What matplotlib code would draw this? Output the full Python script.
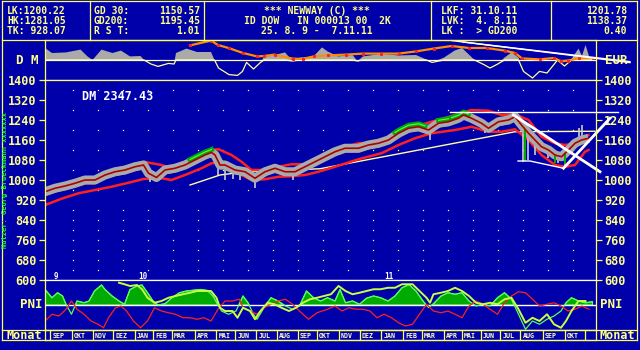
import numpy as np
import matplotlib
matplotlib.use("Agg")
import matplotlib.pyplot as plt
from matplotlib.lines import Line2D
from matplotlib.transforms import offset_copy

# === Farben (EGA-Look) ===
BG = "#0000AA"
YEL = "#FFFF55"
TXT = "#FFFF88"
GRAY = "#AAAAAA"
RED = "#FF2020"
DRED = "#AA0000"
GREEN = "#00AA00"
LGREEN = "#55FF55"
LIME = "#C8FF40"
ORANGE = "#FF8C00"

W, H = 640, 350

# === Kopfzeile ===
head_left = ["LK:1200.22", "HK:1281.05", "TK: 928.07"]
head_gd_names = ["GD 30:", "GD200:", "R S T:"]
head_gd_vals = ["1150.57", "1195.45", "1.01"]
head_mid = ["*** NEWWAY (C) ***", "ID DOW   IN 000013 00  2K", "25. 8. 9 -  7.11.11"]
head_lk = ["LKF: 31.10.11", "LVK:  4. 8.11", "LK :  > GD200"]
head_right = ["1201.78", "1138.37", "0.40"]

# === Kurs (x = Wochenindex ab 25.8.09) ===
price_w = [0, 2, 4, 6, 8, 10, 12, 14, 16, 18, 19.7, 20.7, 22.3, 24, 26, 28, 30, 32, 33.3, 34,
           35, 36, 38, 40, 42, 44, 46, 48, 50, 52, 54, 56, 58, 60, 62.7, 64.7, 66.7, 68.7, 70.7, 72.7,
           74.7, 76.7, 78.7, 80.7, 82.7, 83.7, 85.3, 87.3, 88.7, 90.7, 92.7, 94, 95.3, 96.7, 98, 99.3,
           100.7, 102, 103.3, 104.7, 106, 107.3, 108.7]
price = [953, 967, 976, 987, 1000, 1000, 1020, 1033, 1040, 1053, 1060, 1027, 1010, 1040, 1047, 1060,
         1080, 1100, 1110, 1100, 1060, 1060, 1040, 1033, 1007, 1033, 1047, 1033, 1033, 1053, 1073, 1093,
         1113, 1127, 1127, 1140, 1147, 1160, 1187, 1207, 1213, 1200, 1227, 1233, 1247, 1260, 1247, 1227,
         1207, 1233, 1240, 1253, 1220, 1187, 1160, 1133, 1120, 1100, 1093, 1120, 1147, 1160, 1167]

band_w = [0, 2, 3.3, 6.7, 10, 13.3, 16.7, 19.7, 23.3, 25.3, 28, 31.3, 33.3, 34.7, 37.3, 39.3, 41.3, 44,
          46.7, 49.3, 52, 54.7, 58, 62.7, 67.3, 70.7, 74, 77.3, 82, 85.3, 88.7, 91.3, 94, 96.7, 99.3,
          102, 104, 106, 108, 108.7]
band_up = [945, 960, 975, 993, 1007, 1027, 1053, 1073, 1060, 1047, 1073, 1100, 1120, 1123, 1100, 1073,
           1040, 1040, 1053, 1063, 1063, 1085, 1120, 1147, 1153, 1193, 1213, 1233, 1260, 1280, 1277, 1260,
           1263, 1240, 1173, 1147, 1140, 1147, 1173, 1180]
band_lo = [900, 915, 925, 947, 960, 973, 989, 1004, 1007, 1000, 1020, 1047, 1067, 1070, 1053, 1020,
           1000, 1003, 1013, 1015, 1020, 1033, 1053, 1083, 1107, 1140, 1167, 1187, 1200, 1213, 1193, 1193,
           1203, 1160, 1100, 1060, 1053, 1060, 1113, 1120]

gd200_w = [29, 35, 40, 55, 94, 110]
gd200 = [980, 1020, 1033, 1045, 1193, 1195]

# Dochte (Woche, Extremwert)
spike_w = [21, 22, 34.5, 36, 37.5, 39, 42, 49.5, 77, 88, 95.5, 96.5, 98, 100.5, 102.5, 104, 106.8, 107.3]
spike_v = [993, 1000, 1020, 1000, 1005, 1000, 967, 1000, 1160, 1187, 1073, 1080, 1100, 1090, 1070, 1060,
           1210, 1222]
green_spans = [(29, 33.3), (70, 76), (78.7, 80.7), (81.3, 84.7)]
green_spike_w = [96, 102, 104]
green_spike_v = [1075, 1070, 1065]

# Trendlinien
trend_top_w, trend_top = [81, 114.5], [1271, 1271]
trend_down_w, trend_down = [93.7, 111], [1260, 1033]
trend_up_w, trend_up = [103.7, 113], [1047, 1247]
trend_low_w, trend_low = [94.6, 97, 103.7], [1076, 1076, 1047]

# === DM-Panel ===
dm_w = [0, 1.4, 4.2, 7.1, 8.5, 9.5, 11.3, 13.5, 15.2, 17, 19.1, 19.8, 21.2, 22.6, 24.7, 25.8, 26.2, 28.3,
        30.4, 33.2, 33.9, 34.7, 36.8, 38.5, 39.5, 40.3, 41.7, 43.1, 43.8, 45.9, 48, 49.5, 50.9, 53.7,
        55.4, 56.5, 58.6, 61.5, 62.5, 63.6, 67.1, 70.7, 74.2, 76.3, 77.4, 79.8, 81.9, 83.4, 84.8, 85.9,
        87.7, 89, 90.4, 91.9, 93.3, 94.7, 95.7, 97.5, 98.9, 100.4, 101.8, 102.5, 103.9, 105.3, 106.7,
        107.4, 108.1, 108.9, 109.5]
dm = [60, 35, 38, 52, 18, 0, 52, 35, 47, 18, 20, 0, -20, -32, -17, -20, 35, 57, 40, 40, 0, -40, -73, -77,
      -57, -12, -45, -12, 15, 25, 38, -5, 12, 18, 63, 43, 18, 25, -5, 18, 30, 23, 25, 2, -12, 12, 47, 60,
      27, 0, -22, -40, -22, 12, 38, 12, -57, -90, -57, -65, -22, 5, -30, 5, 57, 20, 75, 12, 10]
dm_or_w = [29, 33.2, 34.6, 36.7, 39.6, 42.4, 43.8, 45.9, 49.5, 51.6, 53.7, 56.5, 60.1, 63.6, 67.1, 70.7,
           74.2, 77.7, 81.3, 84.8, 88.3, 91.9, 94, 95.4, 98.9, 101.8, 103.2, 104.6, 106.7, 109.5]
dm_or = [73, 97, 75, 60, 35, 18, 20, 27, 7, 5, 18, 23, 27, 32, 32, 32, 43, 57, 70, 60, 60, 47, 35, 8, 3,
         10, -7, -3, 8, 10]
dm_tr1_w, dm_tr1 = [81.4, 117], [97, -13]
dm_tr2_w, dm_tr2 = [83.6, 109, 117], [90, 15, -8]

# === PNI-Panel ===
pni_g_w = [0, 1.4, 2.5, 3.5, 4.2, 5.3, 6.4, 7.8, 8.8, 9.9, 11.3, 12, 13.4, 14.8, 15.9, 17, 18.4, 19.4,
           20.5, 21.6, 22.6, 24, 25.4, 26.9, 28.3, 29.7, 31.1, 32.5, 33.6, 34.6, 35.3, 36.7, 38.2, 39.6,
           40.6, 41.7, 42.4, 43.8, 45.2, 46.6, 48.1, 49.5, 50.9, 52.3, 53.7, 55.1, 56.5, 58, 59, 60.1,
           61.5, 62.9, 64.3, 65.7, 67.1, 68.6, 70, 71.4, 72.8, 74.2, 75.6, 76.7, 77.7, 79.2, 80.6, 82,
           83.4, 84.8, 86.2, 87.6, 89, 90.5, 91.9, 93.3, 94.7, 96.1, 97.5, 98.9, 100.4, 101.8, 103.2,
           104.2, 105.3, 106.7, 108.1, 109.5]
pni_g = [62, 29, 49, 36, 3, -37, 16, 9, 16, 56, 80, 62, 36, 16, 3, 62, 76, 80, 49, 16, 0, 5, 29, 49, 56,
         59, 62, 58, 36, 0, -24, -37, -24, 36, 9, -37, -57, -11, 29, 16, -4, -17, -4, 56, 29, 16, 29, 16,
         62, 9, 16, 3, 27, 36, 29, 16, 36, 69, 82, 56, 16, -10, 5, 36, 49, 43, 49, 16, -4, 3, -4, 29, 49,
         23, -37, -97, -64, -77, -57, -44, -24, 9, 29, 16, 9, 13]
pni_r_w = [0, 1.4, 2.8, 4.2, 5.3, 6.4, 7.8, 9.2, 10.6, 11.7, 12.7, 14.1, 15.2, 16.3, 17.7, 19.1, 20.5,
           21.9, 23.3, 24.7, 26.1, 27.6, 29, 30.4, 31.8, 33.2, 34.6, 36, 37.5, 38.9, 39.6, 41, 42.4, 43.8,
           45.2, 46.6, 48.1, 49.5, 50.9, 52.7, 54.4, 56.5, 58, 59.4, 60.8, 62.2, 63.6, 65, 66.4, 67.8,
           69.3, 70.7, 72.1, 73.5, 74.9, 76.3, 77.7, 79.2, 80.6, 82, 83.4, 84.8, 86.2, 87.6, 89, 90.5,
           91.9, 93.3, 94.7, 96.1, 97.5, 98.9, 100.4, 101.8, 103.2, 104.6, 106, 107.4, 108.8]
pni_r = [-64, -37, -44, -17, 16, -17, -37, -64, -77, -91, -51, -11, -4, -24, -64, -91, -64, -11, -24,
         -31, -37, -51, -51, -57, -51, -64, -17, 16, 16, 23, -11, -24, -37, -11, 3, 16, 23, 3, -24, -57,
         -31, -17, -4, -24, -11, -17, -17, -24, -51, -37, -51, -71, -84, -77, -37, 3, -24, -31, -24, -37,
         -51, -4, 16, 3, -17, -37, 9, 36, 53, 49, 23, -4, 3, 9, -4, -24, -17, -4, -17]
pni_y_w = [14.8, 15.9, 17, 18.4, 19.4, 20.5, 21.9, 23.3, 24.7, 26.1, 27.6, 29, 30.4, 31.8, 33.2, 34.3,
           35, 36, 37.5, 38.5, 39.6, 41, 42, 43.1, 44.5, 45.9, 47.3, 48.8, 50.2, 51.6, 53, 54.4, 55.8,
           57.2, 58.7, 60.1, 61.5, 62.9, 64.3, 65.7, 67.1, 68.6, 70, 71.4, 73.5, 74.9, 76.3, 77, 77.7,
           79.2, 80.6, 82, 83.4, 84.8, 86.2, 87.6, 89, 90.5, 91.9, 93.3, 94.7, 96.1, 97.5, 98.9, 100.4,
           101.8, 103.2, 104.2, 105.3, 106.7, 108.1]
pni_y = [89, 83, 76, 80, 63, 29, 9, 16, 29, 36, 43, 49, 56, 56, 56, 29, -11, -24, -24, -51, -11, -24,
         -57, -24, 9, 3, -11, -24, -11, 9, 23, 29, 36, 43, 76, 56, 43, 49, 56, 63, 63, 69, 69, 83, 83, 56,
         29, 9, 43, 49, 56, 69, 56, 36, 9, 3, 9, 3, 23, 29, -17, -71, -51, -64, -37, -77, -91, -64, -24,
         16, 16]

# === Zeitachse ===
month_edges = [1, 5.3, 9.5, 13.5, 17.9, 21.5, 25.3, 29.9, 34.2, 38, 42.2, 46.3, 50.5, 54.3, 58.7, 62.9,
               67.2, 71.5, 75.3, 79.7, 83.3, 87.1, 91, 95, 99.5, 103.9, 108]
month_names = ["SEP", "OKT", "NOV", "DEZ", "JAN", "FEB", "MAR", "APR", "MAI", "JUN", "JUL", "AUG",
               "SEP", "OKT", "NOV", "DEZ", "JAN", "FEB", "MAR", "APR", "MAI", "JUN", "JUL", "AUG",
               "SEP", "OKT"]
year_labels = ["9", "10", "11"]
year_edge_idx = [0, 4, 16]

price_ticks = [1400, 1320, 1240, 1160, 1080, 1000, 920, 840, 760, 680, 600]
grid_w = [5.5 + 5 * k for k in range(21)]
grid_y = [1360, 1280, 1200, 1120, 1040, 960, 880, 840, 800, 760, 720, 680, 640]

XMAX = 110.2

plt.rcParams['font.family'] = ['DejaVu Sans Mono']
plt.rcParams['font.weight'] = 'bold'

fig = plt.figure(figsize=(6.4, 3.5), dpi=100, facecolor=BG)


def rect(x0, y0, x1, y1):
    return [x0 / W, 1 - y1 / H, (x1 - x0) / W, (y1 - y0) / H]


def fline(xs, ys, color=YEL, lw=0.9):
    fig.add_artist(Line2D([x / W for x in xs], [1 - y / H for y in ys],
                          transform=fig.transFigure, color=color, lw=lw))


def ftext(x, y, s, ha="left", size=8.5, color=TXT, **kw):
    fig.text(x / W, 1 - y / H, s, ha=ha, va="center", fontsize=size, color=color,
             fontweight="bold", **kw)


def style(ax, ylim):
    ax.set_facecolor(BG)
    ax.set_xlim(0, XMAX)
    ax.set_ylim(*ylim)
    ax.set_xticks([])
    ax.set_yticks([])
    for s in ax.spines.values():
        s.set_color(YEL)
        s.set_linewidth(0.9)


# --- Rahmen / Kopf ---
fline([2, 637], [1, 1])
fline([2, 637], [40, 40])
fline([2, 2], [1, 340])
fline([637, 637], [1, 340])
for xd in [90, 204, 431, 551]:
    fline([xd, xd], [1, 40])
fline([2, 637], [330, 330])
fline([2, 637], [340, 340])

HS = 7.0
for i in range(3):
    yy = 11.5 + 10 * i
    ftext(7, yy, head_left[i], size=HS)
    ftext(94, yy, head_gd_names[i], size=HS)
    ftext(200, yy, head_gd_vals[i], ha="right", size=HS)
    ftext(317, yy, head_mid[i], ha="center", size=HS)
    ftext(441, yy, head_lk[i], size=HS)
    ftext(627, yy, head_right[i], ha="right", size=HS)

ftext(27, 61, "D M", ha="center", size=9)
ftext(616, 61, "EUR", ha="center", size=9)
ftext(31, 305, "PNI", ha="center", size=9)
ftext(611, 305, "PNI", ha="center", size=9)
ftext(24, 335.5, "Monat", ha="center", size=8.5)
ftext(617, 335.5, "Monat", ha="center", size=8.5)
fig.text(5.5 / W, 1 - 180 / H, "Nutzer: Georg Brueckmann xxxxxxx", rotation=90, ha="center",
         va="center", fontsize=5, color="#22FF22")

# --- DM-Panel ---
ax_dm = fig.add_axes(rect(45, 40, 596, 80))
style(ax_dm, (-100, 100))
ax_dm.spines["bottom"].set_color(TXT)
dm_arr = np.array(dm, dtype=float)
ax_dm.plot(dm_w, np.minimum(dm_arr, 0), color="#FFFF99", lw=0.9)
ax_dm.axhline(0, color="#FFFFCC", lw=0.9)
ax_dm.fill_between(dm_w, dm_arr, 0, where=dm_arr >= 0, interpolate=True, color=GRAY, lw=0)
ax_dm.plot(dm_or_w, dm_or, color=ORANGE, lw=1.6)
ax_dm.plot(dm_or_w, dm_or, color=RED, lw=0, marker="s", ms=1.2)
ax_dm.plot(dm_tr1_w, dm_tr1, color="white", lw=1, clip_on=False)
ax_dm.plot(dm_tr2_w, dm_tr2, color="white", lw=1, clip_on=False)

# --- Kurs-Panel ---
ax = fig.add_axes(rect(45, 80, 596, 280))
style(ax, (600, 1400))
ax.spines["top"].set_color(TXT)
ax.spines["bottom"].set_color("white")
ax.set_yticks(price_ticks)
ax.set_yticklabels([str(v) for v in price_ticks])
ax.tick_params(axis="y", direction="out", length=4, width=0.9, color=YEL, labelcolor=TXT,
               labelsize=8.5, left=True, right=True, labelleft=True, labelright=True, pad=2)

gx, gy = np.meshgrid(grid_w, grid_y)
ax.plot(gx.ravel(), gy.ravel(), ls="none", marker="s", ms=0.9, color="#FFFFAA", mew=0)

ax.plot(gd200_w, gd200, color="#FFFFAA", lw=1)
ax.plot(band_w, band_up, color=RED, lw=1.8)
ax.plot(band_w, band_lo, color=RED, lw=1.8)

low_tr = offset_copy(ax.transData, fig=fig, x=0, y=-3.5, units="dots")
ax.plot(price_w, price, color=ORANGE, lw=1.2, transform=low_tr)
spike_base = np.interp(spike_w, price_w, price)
ax.vlines(spike_w, spike_base, spike_v, color="#CCCCCC", lw=1.2)
ax.plot(price_w, price, color=GRAY, lw=6.5, solid_capstyle="butt")
up_tr = offset_copy(ax.transData, fig=fig, x=0, y=3, units="dots")
for a, b in green_spans:
    xs = np.linspace(a, b, 25)
    ax.plot(xs, np.interp(xs, price_w, price), color=GREEN, lw=3.5, transform=up_tr)
    ax.plot(xs, np.interp(xs, price_w, price), color=LGREEN, lw=0.8, transform=up_tr)
ax.vlines(green_spike_w, np.interp(green_spike_w, price_w, price), green_spike_v, color=GREEN, lw=1.4)
ax.plot(price_w, price, color=DRED, lw=1.2)

ax.plot(trend_top_w, trend_top, color="white", lw=1, clip_on=False)
ax.plot(trend_low_w, trend_low, color="white", lw=1)
ax.plot(trend_down_w, trend_down, color="white", lw=2, clip_on=False)
ax.plot(trend_up_w, trend_up, color="white", lw=2, clip_on=False)

ax.text(7.4, 1335, "DM 2347.43", color="white", fontsize=8.5, va="center")
for lab, idx in zip(year_labels, year_edge_idx):
    ax.text(month_edges[idx] + 0.7, 614, lab, color="white", fontsize=5.5, va="center")

# --- PNI-Panel ---
ax_p = fig.add_axes(rect(45, 280, 596, 330))
style(ax_p, (-100, 100))
ax_p.spines["top"].set_color("white")
ax_p.axhline(0, color="white", lw=1)
g = np.array(pni_g, dtype=float)
ax_p.fill_between(pni_g_w, g, 0, where=g >= 0, interpolate=True, facecolor=GREEN,
                  edgecolor=LGREEN, lw=0.8)
ax_p.plot(pni_g_w, g, color=LGREEN, lw=0.9)
ax_p.plot(pni_r_w, pni_r, color=RED, lw=0.9)
ax_p.plot(pni_y_w, pni_y, color=LIME, lw=1.4)

# --- Monatszeile ---
ax_m = fig.add_axes(rect(45, 330, 596, 340))
style(ax_m, (0, 1))
ax_m.vlines(month_edges, 0, 1, color=YEL, lw=0.9)
for e, name in zip(month_edges[:-1], month_names):
    ax_m.text(e + 0.5, 0.45, name, color="#FFFFCC", fontsize=4.8, va="center", ha="left")

fig.savefig("out.png", dpi=100, facecolor=BG)
